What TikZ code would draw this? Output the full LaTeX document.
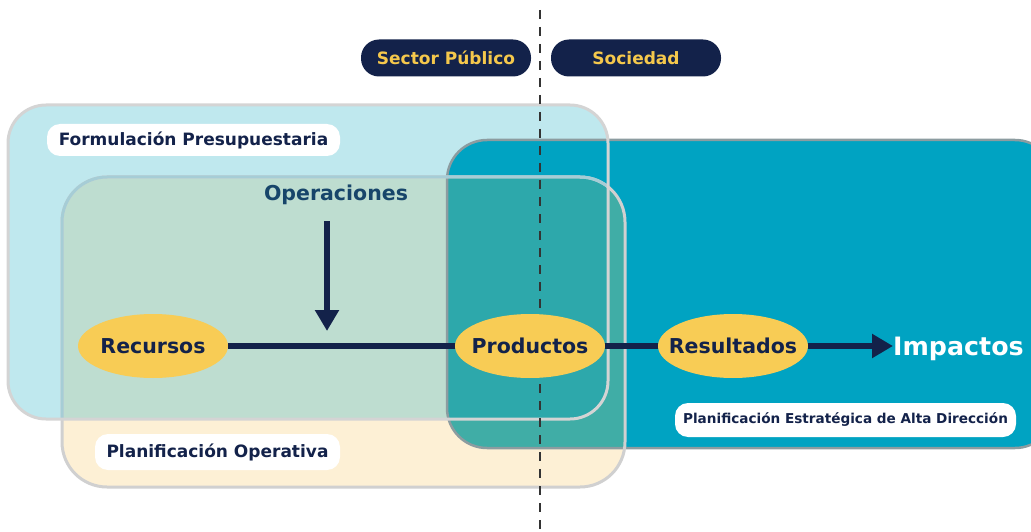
\documentclass[tikz,border=0pt]{standalone}
\usepackage{fontspec}
\setmainfont{DejaVu Sans}
\usetikzlibrary{arrows.meta,shapes.geometric}
\definecolor{lbfill}{HTML}{BFE8EE}
\definecolor{creamfill}{HTML}{FDF0D5}
\definecolor{lbgreen}{HTML}{BEDDD0}
\definecolor{tealfill}{HTML}{00A3C2}
\definecolor{tealgreen}{HTML}{40ADA6}
\definecolor{tealgreenlb}{HTML}{2DA8AB}
\definecolor{lbborder}{HTML}{D4D4D4}
\definecolor{tealborder}{HTML}{8C9CA0}
\definecolor{greenborderA}{HTML}{D0D0D0}
\definecolor{greenborderB}{HTML}{A6CDD6}
\definecolor{navy}{HTML}{13224A}
\definecolor{gold}{HTML}{F8CC55}
\definecolor{pilltext}{HTML}{F5C84C}
\definecolor{optextc}{HTML}{17456A}
\definecolor{dashc}{HTML}{333333}
\tikzset{
  ell/.style={ellipse, fill=gold, minimum width=150pt, minimum height=64pt, inner sep=0pt,
    text=navy, font=\bfseries\fontsize{20.5}{24}\selectfont},
  pill/.style={rounded corners=18pt, fill=navy, minimum width=170pt, minimum height=37pt,
    inner sep=0pt, text=pilltext, font=\bfseries\fontsize{17}{20}\selectfont},
  tag/.style={rounded corners=13pt, fill=white, inner sep=0pt, text=navy},
  flow/.style={navy, line width=6pt},
  flowarrow/.style={navy, line width=6pt, -{Triangle[length=21pt,width=23pt]}},
  dashline/.style={dashc, line width=2.5pt, dash pattern=on 9pt off 8pt},
}
\begin{document}
\begin{tikzpicture}[x=1pt,y=-1pt]
\useasboundingbox (0,0) rectangle (1031,532);
% fills
\fill[lbfill, rounded corners=38pt] (8,105) rectangle (608,419);
\fill[creamfill, rounded corners=45pt] (62,177) rectangle (625,487);
\begin{scope}
  \clip[rounded corners=38pt] (8,105) rectangle (608,419);
  \fill[lbgreen, rounded corners=45pt] (62,177) rectangle (625,487);
\end{scope}
\fill[tealfill, rounded corners=40pt] (447,140) rectangle (1055,448);
\begin{scope}
  \clip[rounded corners=40pt] (447,140) rectangle (1055,448);
  \fill[tealgreen, rounded corners=45pt] (62,177) rectangle (625,487);
  \clip[rounded corners=38pt] (8,105) rectangle (608,419);
  \fill[tealgreenlb, rounded corners=45pt] (62,177) rectangle (625,487);
\end{scope}
% borders
\draw[tealborder, line width=2.5pt, rounded corners=40pt] (447,140) rectangle (1055,448);
\draw[greenborderA, line width=3pt, rounded corners=45pt] (62,177) rectangle (625,487);
\begin{scope}
  \clip[rounded corners=38pt] (8,105) rectangle (608,419);
  \draw[greenborderB, line width=3pt, rounded corners=45pt] (62,177) rectangle (625,487);
\end{scope}
\draw[lbborder, line width=3pt, rounded corners=38pt] (8,105) rectangle (608,419);
% labels
\node[tag, minimum width=293pt, minimum height=32pt, font=\bfseries\fontsize{17}{20}\selectfont] (formu) at (193.5,140) {Formulación Presupuestaria};
\node[tag, minimum width=245pt, minimum height=36pt, font=\bfseries\fontsize{17}{20}\selectfont] (plop) at (217.5,452) {Planificación Operativa};
\node[tag, minimum width=341pt, minimum height=34pt, font=\bfseries\fontsize{13.6}{16}\selectfont] (plest) at (845.5,420) {Planificación Estratégica de Alta Dirección};
\node[pill] (sector) at (446,58) {Sector Público};
\node[pill] (soc) at (636,58) {Sociedad};
% dashed divider
\coordinate (dtop) at (540,10);
\coordinate (dbot) at (540,532);
\draw[dashline] (dtop) -- (dbot);
% process
\node[text=optextc, inner sep=0pt, font=\bfseries\fontsize{20.5}{24}\selectfont] (ope) at (336,195) {Operaciones};
\coordinate (opstart) at (327,221);
\coordinate (opend) at (327,331);
\draw[flowarrow] (opstart) -- (opend);
\node[ell] (rec) at (153,346) {\makebox[0pt][c]{Recursos}};
\node[ell] (prod) at (530,346) {\makebox[0pt][c]{Productos}};
\node[ell] (res) at (733,346) {\makebox[0pt][c]{Resultados}};
\node[anchor=base west, inner sep=0pt, text=white, font=\bfseries\fontsize{25.3}{30}\selectfont] (imp) at (893,355) {Impactos};
\draw[flow] (rec) -- (prod);
\draw[flow] (prod) -- (res);
\draw[flowarrow] (res) -- (res -| imp.west);
\end{tikzpicture}
\end{document}
